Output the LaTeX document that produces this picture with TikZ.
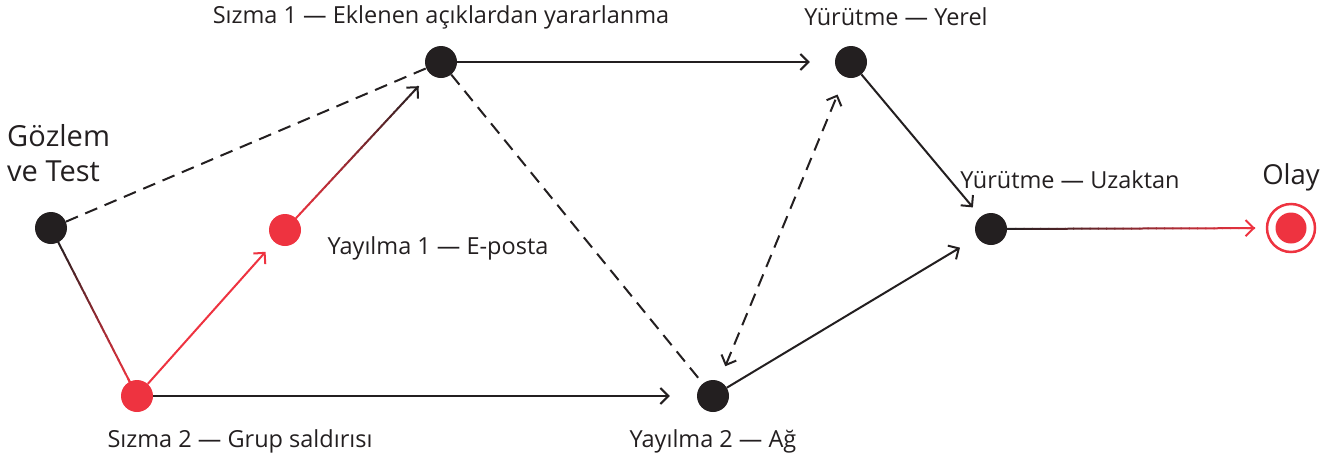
\documentclass[tikz,border=0pt]{standalone}
\usepackage{fontspec}
\setmainfont{Open Sans}
\usetikzlibrary{arrows.meta,calc}

\definecolor{ink}{HTML}{231F20}
\definecolor{alert}{HTML}{EE3340}

\tikzset{
  dot/.style={circle,fill=#1,draw=none,minimum size=32pt,inner sep=0pt},
  dot/.default=ink,
  link/.style={line width=2pt,color=ink},
  tip/.style={-{Straight Barb[length=8pt,width=16pt,line width=2pt]}},
  bitip/.style={{Straight Barb[length=8pt,width=16pt,line width=2pt]}-{Straight Barb[length=8pt,width=16pt,line width=2pt]}},
  dashlink/.style={link,dash pattern=on 13pt off 8pt},
  lbl/.style={font=\fontsize{23.5}{28}\selectfont,text=ink,inner sep=0pt},
  biglbl/.style={font=\fontsize{29}{35}\selectfont,text=ink,inner sep=0pt},
}

% colour-graded connector: #1 from, #2 to, #3 start colour, #4 end colour,
% #5 gap at start, #6 gap at end, #7 arrow style for the last piece
\newcommand\gradedge[7]{%
  \coordinate (gs) at ($(#1)!#5!(#2)$);
  \coordinate (ge) at ($(#2)!#6!(#1)$);
  \foreach \k in {1,...,30}{%
    \pgfmathsetmacro\ta{(\k-1)/30}%
    \pgfmathsetmacro\tb{min(1,\k/30+0.004)}%
    \pgfmathsetmacro\pc{100*(\k-0.5)/30}%
    \draw[line width=2pt,color=#4!\pc!#3] ($(gs)!\ta!(ge)$) -- ($(gs)!\tb!(ge)$);
  }%
  \draw[line width=2pt,color=#4,#7] ($(gs)!0.97!(ge)$) -- (ge);
}

\begin{document}
\begin{tikzpicture}[x=1pt,y=-1pt]
\useasboundingbox (0,0) rectangle (1336,464);

% stages
\node[dot] (obs) at (51,228) {};
\node[dot=alert] (inf2) at (137,396) {};
\node[dot=alert] (spr1) at (285,230) {};
\node[dot] (inf1) at (441,62) {};
\node[dot] (spr2) at (713,396) {};
\node[dot] (exl) at (851,62) {};
\node[dot] (exr) at (991,229) {};
\node[circle,draw=alert,line width=2.5pt,minimum size=48pt,inner sep=0pt] (inc) at (1291,228) {};
\node[dot=alert,minimum size=31pt] at (inc.center) {};

% labels
\node[lbl] (tinf1) at (441,17) {Sızma 1 — Eklenen açıklardan yararlanma};
\node[lbl] (texl) at (896,17) {Yürütme — Yerel};
\node[biglbl,align=left,anchor=west] (tobs) at (7,153) {Gözlem\\ve Test};
\node[lbl] (tspr1) at (438,248) {Yayılma 1 — E-posta};
\node[lbl] (texr) at (1070,180) {Yürütme — Uzaktan};
\node[biglbl,font=\fontsize{27.5}{32}\selectfont] (tinc) at (1291,177) {Olay};
\node[lbl] (tinf2) at (240,441) {Sızma 2 — Grup saldırısı};
\node[lbl] (tspr2) at (713,441) {Yayılma 2 — Ağ};

% connectors
\draw[dashlink] (obs) -- (inf1);
\draw[dashlink] (inf1) -- (spr2);
\gradedge{obs}{inf2}{ink}{alert}{14pt}{14pt}{}
\draw[link,color=alert,tip,shorten >=13pt] (inf2) -- (spr1);
\gradedge{spr1}{inf1}{alert}{ink}{16pt}{33pt}{tip}
\draw[link,tip,shorten >=27pt] (inf2) -- (spr2);
\draw[link,tip,shorten >=25pt] (inf1) -- (exl);
\draw[link,dashed,dash pattern=on 13pt off 8pt,bitip,shorten <=16pt,shorten >=19pt] (spr2) -- (exl);
\draw[link,tip,shorten >=12pt] (exl) -- (exr);
\draw[link,tip,shorten >=20pt] (spr2) -- (exr);
\gradedge{exr}{inc}{ink}{alert}{16pt}{36pt}{tip}
\end{tikzpicture}
\end{document}
